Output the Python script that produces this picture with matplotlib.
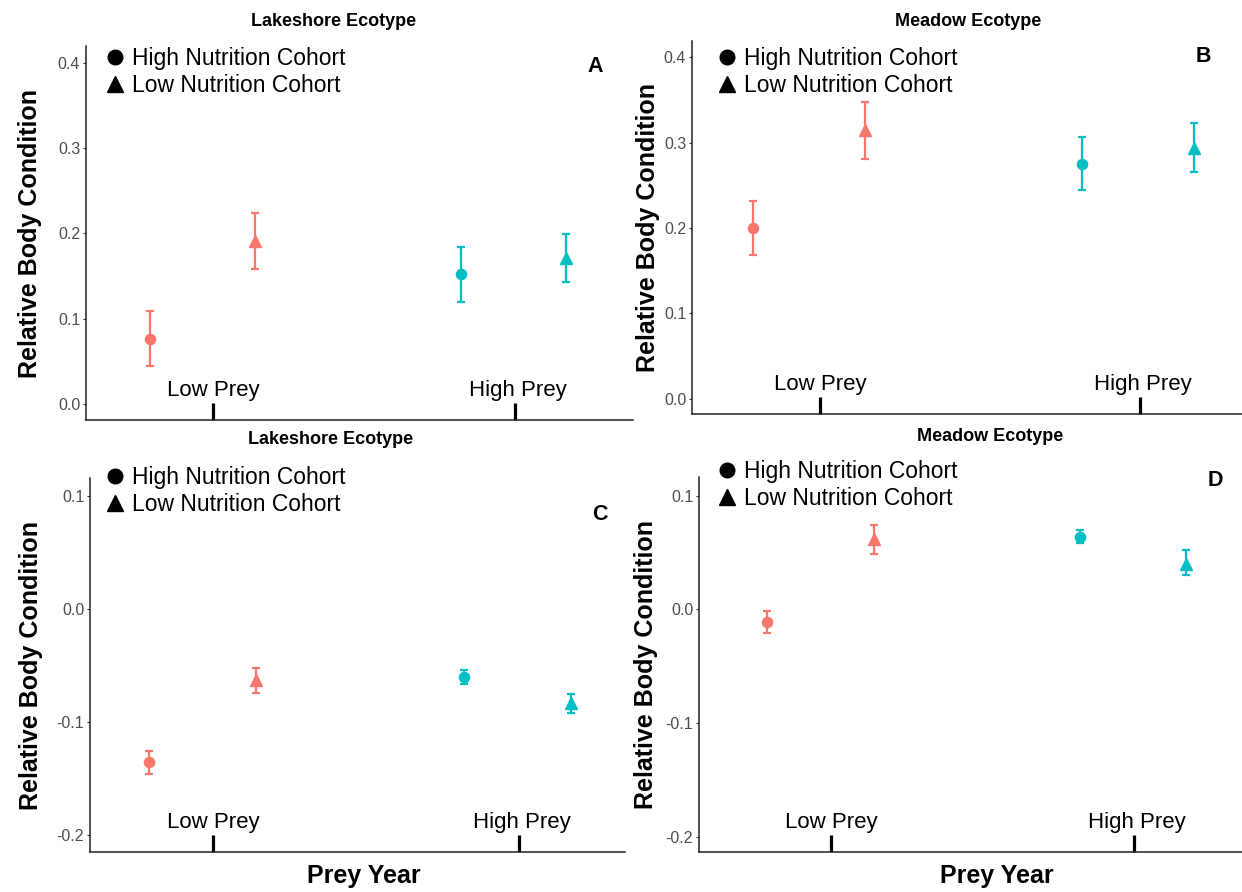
import matplotlib
matplotlib.use("Agg")
import matplotlib.pyplot as plt
from matplotlib.lines import Line2D
import matplotlib.transforms as mtransforms

plt.rcParams['font.family'] = ['Liberation Sans', 'DejaVu Sans']

# prey years and cohorts
prey_labels = ["Low Prey", "High Prey"]
cohort_labels = ["High Nutrition Cohort", "Low Nutrition Cohort"]
# order within each panel: low prey / high nutr, low prey / low nutr,
# high prey / high nutr, high prey / low nutr
x_vals = [0.79, 1.14, 1.82, 2.17]

# A: Lakeshore, year 1
a_mean = [0.076, 0.191, 0.152, 0.171]
a_lo = [0.044, 0.158, 0.120, 0.143]
a_hi = [0.109, 0.224, 0.184, 0.199]
# B: Meadow, year 1
b_mean = [0.200, 0.315, 0.275, 0.294]
b_lo = [0.168, 0.281, 0.244, 0.265]
b_hi = [0.232, 0.347, 0.307, 0.323]
# C: Lakeshore, year 2
c_mean = [-0.135, -0.063, -0.060, -0.083]
c_lo = [-0.146, -0.074, -0.066, -0.092]
c_hi = [-0.125, -0.052, -0.054, -0.075]
# D: Meadow, year 2
d_mean = [-0.011, 0.062, 0.064, 0.040]
d_lo = [-0.021, 0.049, 0.058, 0.030]
d_hi = [-0.001, 0.074, 0.070, 0.052]

top_ticks = [0.0, 0.1, 0.2, 0.3, 0.4]
bottom_ticks = [-0.2, -0.1, 0.0, 0.1]

RED = "#F8766D"
CYAN = "#00BFC4"
colors = [RED, RED, CYAN, CYAN]
markers = ["o", "^", "o", "^"]

W, H = 1242, 892
fig = plt.figure(figsize=(W / 100, H / 100), dpi=100)


def rect(left, top, right, bottom):
    return [left / W, 1 - bottom / H, (right - left) / W, (bottom - top) / H]


def fx(x):
    return x / W


def fy(y):
    return 1 - y / H


def panel(box, xlim, ylim, yticks, mean, lo, hi, title, title_xy, letter,
          letter_xy, leg_xy, ylab_x, xlabel_xy=None):
    ax = fig.add_axes(rect(*box))
    for x, m, l, h, c, mk in zip(x_vals, mean, lo, hi, colors, markers):
        ax.errorbar([x], [m], yerr=[[m - l], [h - m]], fmt=mk, color=c,
                    ms=7.3 if mk == "o" else 9.0, elinewidth=1.6,
                    capsize=3.2, capthick=1.6, zorder=3)
    ax.set_xlim(*xlim)
    ax.set_ylim(*ylim)
    ax.set_yticks(yticks, labels=[f"{t:.1f}" for t in yticks])
    ax.tick_params(axis="y", direction="out", length=2.2, width=0.8,
                   color="#333333", labelsize=11.5, labelcolor="#4d4d4d",
                   pad=2)
    # prey year ticks sit inside the panel with their labels above them
    ax.set_xticks([1, 2], labels=["", ""])
    ax.tick_params(axis="x", direction="in", length=12.5, width=2.3,
                   color="black")
    trans = mtransforms.blended_transform_factory(ax.transData, ax.transAxes)
    for xp, lab, dx in zip([1, 2], prey_labels, [0.5, 2]):
        ax.annotate(lab, xy=(xp, 0), xycoords=trans, xytext=(dx, 17.5),
                    textcoords="offset points", ha="center",
                    va="baseline", fontsize=16)
    for side in ["top", "right"]:
        ax.spines[side].set_visible(False)
    for side in ["left", "bottom"]:
        ax.spines[side].set_color("#222222")
        ax.spines[side].set_linewidth(1.1)
    ax.set_ylabel("Relative Body Condition", fontsize=18, fontweight="bold")
    ax.yaxis.set_label_coords((ylab_x - box[0]) / (box[2] - box[0]), 0.5)

    handles = [Line2D([], [], ls="none", marker="o", color="black", ms=10.5),
               Line2D([], [], ls="none", marker="^", color="black", ms=11.5)]
    ax.legend(handles, cohort_labels, loc="upper left",
              bbox_to_anchor=(fx(leg_xy[0]), fy(leg_xy[1])),
              bbox_transform=fig.transFigure, frameon=False, fontsize=16.5,
              handlelength=0.8, handletextpad=0.35, labelspacing=0.17,
              borderpad=0, borderaxespad=0)

    fig.text(fx(title_xy[0]), fy(title_xy[1]), title, ha="center",
             va="center", fontsize=13, fontweight="bold")
    fig.text(fx(letter_xy[0]), fy(letter_xy[1]), letter, ha="center",
             va="center", fontsize=15.5, fontweight="bold")
    if xlabel_xy is not None:
        fig.text(fx(xlabel_xy[0]), fy(xlabel_xy[1]), "Prey Year",
                 ha="center", va="center", fontsize=18, fontweight="bold")
    return ax


panel((86, 46, 633, 420), (0.5795, 2.391), (-0.019, 0.42), top_ticks,
      a_mean, a_lo, a_hi, "Lakeshore Ecotype", (334, 21), "A", (595, 66),
      (106, 47), 42)
panel((692, 41, 1242, 414), (0.60, 2.319), (-0.018, 0.419), top_ticks,
      b_mean, b_lo, b_hi, "Meadow Ecotype", (968, 22), "B", (1203, 56),
      (718, 47), 660)
panel((90, 478, 625, 852), (0.599, 2.345), (-0.2146, 0.116), bottom_ticks,
      c_mean, c_lo, c_hi, "Lakeshore Ecotype", (331, 440), "C", (600, 514),
      (106, 466), 43, xlabel_xy=(364, 876))
panel((699, 477, 1242, 852), (0.564, 2.356), (-0.2132, 0.1164), bottom_ticks,
      d_mean, d_lo, d_hi, "Meadow Ecotype", (990, 436), "D", (1215, 481),
      (718, 460), 658, xlabel_xy=(997, 876))

fig.savefig("out.png", dpi=100)
